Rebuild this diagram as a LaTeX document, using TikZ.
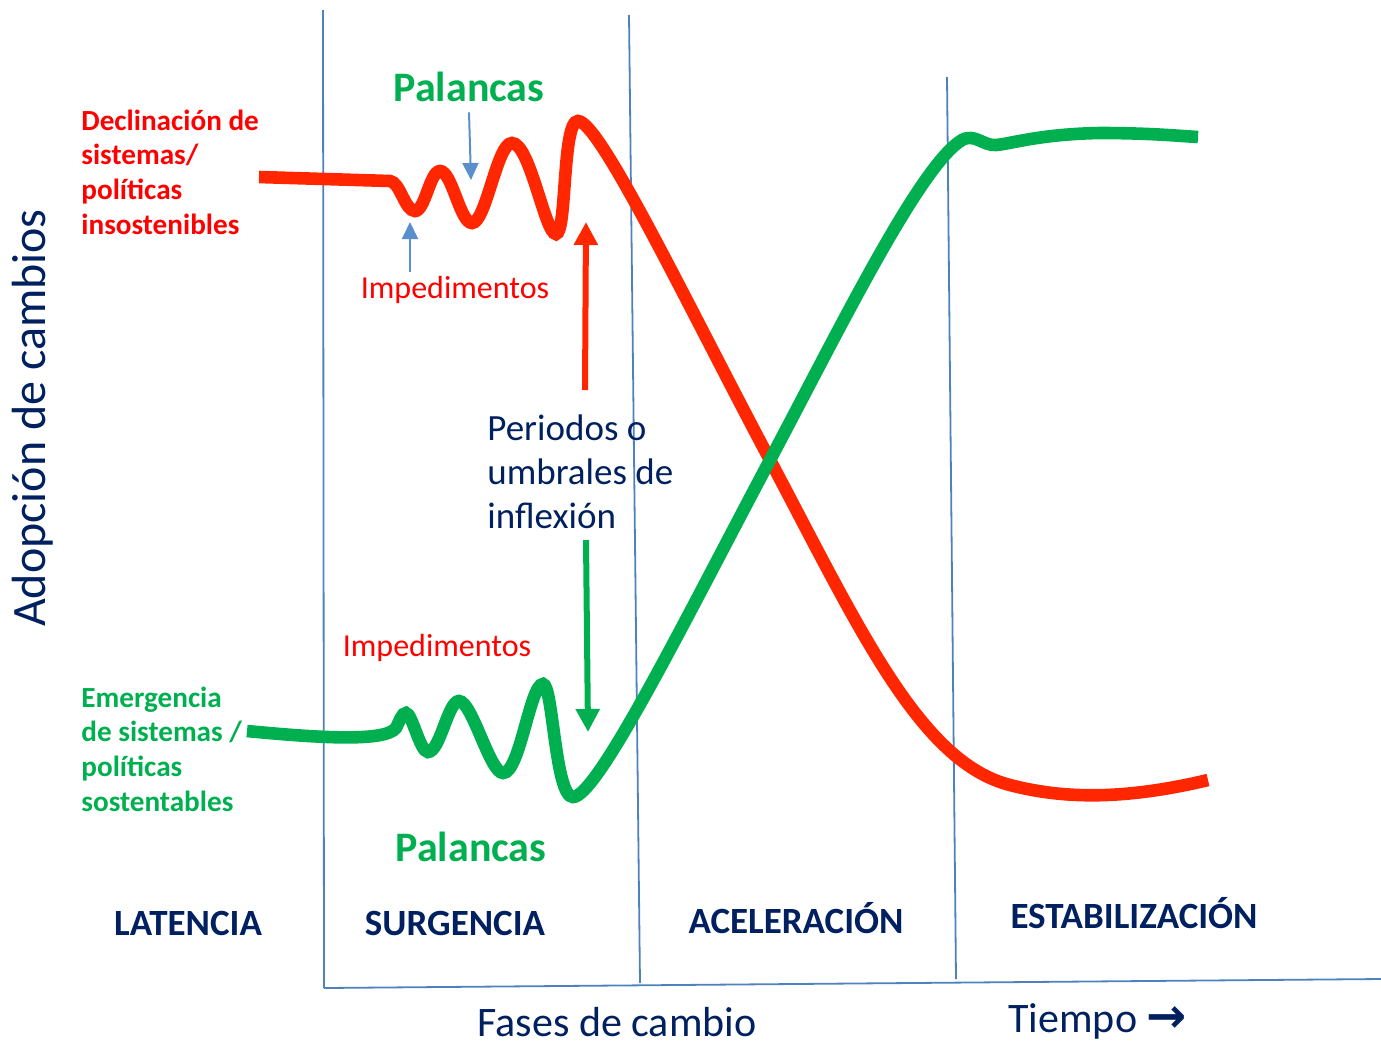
\documentclass[tikz,border=0pt]{standalone}
\usepackage{fontspec}
\setmainfont{Carlito}
\newfontfamily\symfont{DejaVu Sans}
\usetikzlibrary{arrows.meta}

\definecolor{navy}{HTML}{002060}
\definecolor{labred}{HTML}{FF0000}
\definecolor{curvered}{RGB}{255,38,0}
\definecolor{officegreen}{HTML}{00B050}
\definecolor{axisblue}{HTML}{4F81BD}
\definecolor{arrowblue}{HTML}{5B8FCB}

\begin{document}
\begin{tikzpicture}[x=0.5pt, y=-0.5pt,
    lab/.style={inner sep=0pt, align=left},
    phase/.style={inner sep=0pt, text=navy, font=\fontsize{18.5}{22}\selectfont\bfseries},
    gridline/.style={draw=axisblue, line width=0.9pt},
    curve/.style={line width=6.3pt},
    bigarrow/.style={line width=3pt, -{Triangle[width=11.5pt,length=11.5pt]}},
    smallarrow/.style={draw=arrowblue, line width=1pt, -{Triangle[width=8pt,length=8.5pt]}}]
    \useasboundingbox (0,0) rectangle (1381,1046);

    % phase separators and time axis
    \coordinate (L1top) at (323,10);
    \coordinate (L1bot) at (324,988);
    \coordinate (L2top) at (629,15);
    \coordinate (L2bot) at (640,983);
    \coordinate (L3top) at (947,77);
    \coordinate (L3bot) at (956,979);
    \coordinate (axisend) at (1381,979);
    \draw[gridline] (L1top) -- (L1bot);
    \draw[gridline] (L2top) -- (L2bot);
    \draw[gridline] (L3top) -- (L3bot);
    \draw[gridline] (L1bot) -- (axisend);

    % declining systems
    \draw[curve, curvered] (259,177) -- (390,181)
        .. controls (400,182) and (405,211) .. (415,211)
        .. controls (425,211) and (430,171) .. (440,171)
        .. controls (452,171) and (460,223) .. (472,223)
        .. controls (486,223) and (497,143) .. (512,143)
        .. controls (530,143) and (545,234) .. (556,234)
        .. controls (567,234) and (562,121) .. (578,121)
        .. controls (600,121) and (690,310) .. (770,460)
        .. controls (860,630) and (920,762) .. (1010,785)
        .. controls (1060,798) and (1120,801) .. (1208,780);

    % emerging systems
    \draw[curve, officegreen] (247,731)
        .. controls (320,738) and (385,742) .. (396,728)
        .. controls (400,720) and (402,713) .. (406,713)
        .. controls (412,713) and (420,752) .. (428,752)
        .. controls (440,752) and (448,701) .. (459,701)
        .. controls (472,701) and (490,773) .. (503,773)
        .. controls (520,773) and (530,684) .. (543,684)
        .. controls (553,684) and (555,797) .. (573,797)
        .. controls (598,797) and (690,610) .. (770,460)
        .. controls (840,328) and (920,165) .. (962,140)
        .. controls (975,133) and (983,146) .. (996,145)
        .. controls (1010,144) and (1040,134) .. (1100,133)
        .. controls (1150,133) and (1180,136) .. (1198,137);

    % labels
    \node[lab, anchor=west, text=labred, font=\fontsize{14.6}{17.3}\selectfont\bfseries] (decl) at (81,172)
        {Declinación de\\sistemas/\\políticas\\insostenibles};
    \node[lab, anchor=west, text=officegreen, font=\fontsize{14.6}{17.3}\selectfont\bfseries] (emerg) at (81,749)
        {Emergencia\\de sistemas /\\políticas\\sostentables};
    \node[lab, text=officegreen, font=\fontsize{21}{25}\selectfont\bfseries] (palup) at (469,87) {Palancas};
    \node[lab, text=officegreen, font=\fontsize{21}{25}\selectfont\bfseries] (paldown) at (471,847) {Palancas};
    \node[lab, text=labred, font=\fontsize{16}{19}\selectfont] (impup) at (455,290) {Impedimentos};
    \node[lab, text=labred, font=\fontsize{16}{19}\selectfont] (impdown) at (437,648) {Impedimentos};
    \node[lab, anchor=west, text=navy, font=\fontsize{18.5}{22}\selectfont] (umbral) at (487,472)
        {Periodos o\\umbrales de\\inflexión};
    \node[lab, text=navy, rotate=90, font=\fontsize{24}{28}\selectfont] (yaxis) at (33,418) {Adopción de cambios};

    \node[phase] (lat) at (188,923) {LATENCIA};
    \node[phase] (surg) at (455,923) {SURGENCIA};
    \node[phase] (acel) at (796,918) {ACELERACIÓN};
    \node[phase] (estab) at (1134,913) {ESTABILIZACIÓN};

    \node[lab, text=navy, font=\fontsize{21}{25}\selectfont] (fases) at (617,1022) {Fases de cambio};
    \node[lab, anchor=west, text=navy, font=\fontsize{21}{25}\selectfont] (tiempo) at (1008,1021)
        {Tiempo {\symfont\fontsize{24}{26}\selectfont\bfseries →}};

    % arrows
    \coordinate (redtail) at (585,390);
    \coordinate (redtip) at (586,222);
    \coordinate (greentail) at (586,540);
    \coordinate (greentip) at (588,732);
    \coordinate (paltip) at (471,180);
    \coordinate (imptip) at (410,222);
    \draw[bigarrow, curvered] (redtail) -- (redtip);
    \draw[bigarrow, officegreen] (greentail) -- (greentip);
    \draw[smallarrow] (palup.south) ++(0,10) -- (paltip);
    \draw[smallarrow] (410,272) -- (imptip);
\end{tikzpicture}
\end{document}
